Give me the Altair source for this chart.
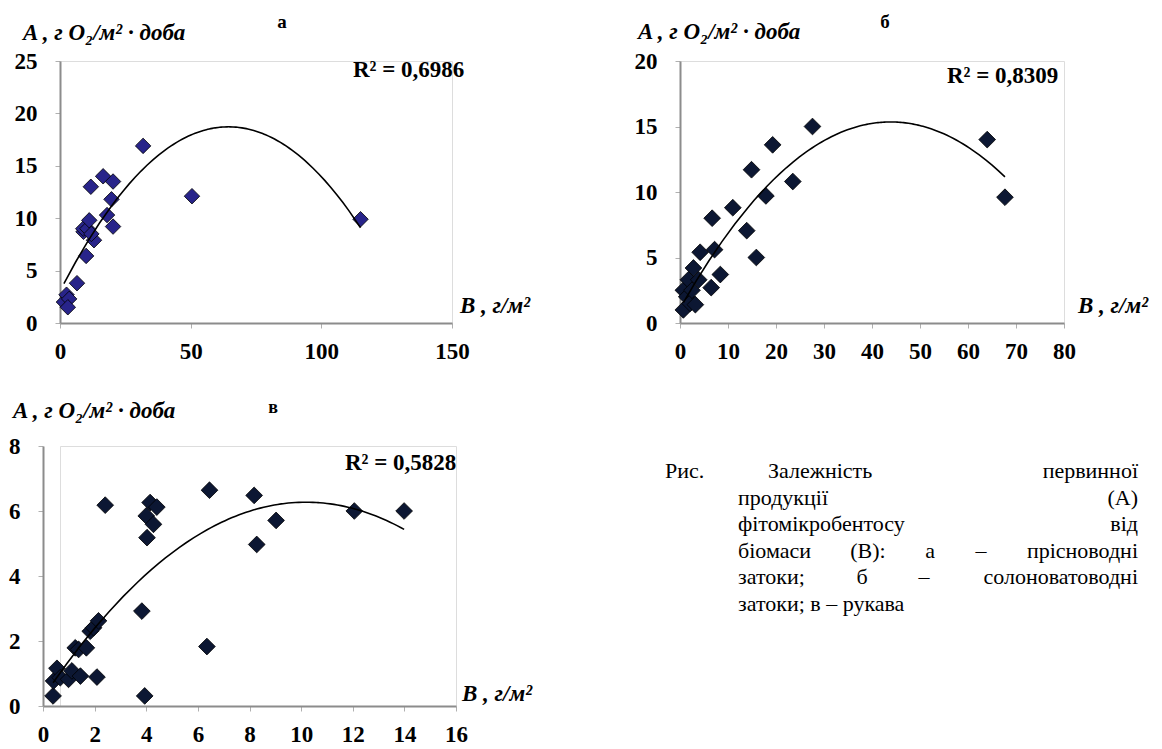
import altair as alt
import pandas as pd

FONT = "Liberation Serif"

# ---------- data ----------
# panel а – прісноводні затоки
a_B = [1.5, 2.5, 3.5, 3.0, 6.5, 10.0, 9.0, 8.9, 10.5, 11.2, 11.8, 13.0, 12.0, 16.5, 18.0, 19.7, 20.3, 20.3, 31.8, 50.5, 115.0]
a_A = [2.0, 2.7, 2.3, 1.5, 3.8, 6.4, 8.7, 9.0, 9.0, 9.8, 13.0, 7.9, 8.5, 14.0, 10.3, 11.8, 13.5, 9.2, 16.9, 12.1, 9.9]
# panel б – солоноватоводні затоки
b_B = [0.7, 0.7, 1.4, 1.75, 2.1, 2.5, 2.8, 3.2, 3.9, 4.2, 6.5, 6.7, 7.2, 8.4, 11.0, 13.9, 14.9, 15.9, 17.9, 19.3, 23.5, 27.6, 64.0, 67.7]
b_A = [1.0, 2.5, 2.0, 3.3, 1.5, 2.5, 4.2, 1.4, 3.3, 5.4, 2.7, 8.0, 5.6, 3.7, 8.8, 7.05, 11.7, 5.0, 9.7, 13.6, 10.8, 15.0, 14.0, 9.6]
# panel в – рукава
c_B = [0.39, 0.41, 0.54, 0.67, 0.99, 1.12, 1.25, 1.38, 1.45, 1.68, 1.83, 1.96, 2.09, 2.15, 2.41, 3.83, 3.94,
       4.0, 4.03, 4.15, 4.28, 4.41, 6.35, 6.45, 8.18, 8.28, 9.03, 12.06, 13.99]
c_A = [0.31, 0.77, 1.16, 0.87, 0.82, 1.08, 1.79, 1.74, 0.92, 1.79, 2.3, 2.41, 0.89, 2.62, 6.18, 2.92, 0.31,
       5.85, 5.18, 6.26, 5.59, 6.12, 1.83, 6.64, 6.48, 4.97, 5.71, 6.0, 6.0]

a_xticks = [0, 50, 100, 150]
a_yticks = [0, 5, 10, 15, 20, 25]
b_xticks = [0, 10, 20, 30, 40, 50, 60, 70, 80]
b_yticks = [0, 5, 10, 15, 20]
c_xticks = [0, 2, 4, 6, 8, 10, 12, 14, 16]
c_yticks = [0, 2, 4, 6, 8]

r2_a = "R² = 0,6986"
r2_b = "R² = 0,8309"
r2_c = "R² = 0,5828"
y_title = "A , г O₂/м²  ·  доба"
x_title = "B , г/м²"

# caption words: (text, x, y, align) relative to panel в
caption_words = [
    ("Рис.", 605, 25, "left"), ("Залежність", 708, 25, "left"), ("первинної", 1078, 25, "right"),
    ("продукції", 678, 52, "left"), ("(A)", 1078, 52, "right"),
    ("фітомікробентосу", 678, 78, "left"), ("від", 1078, 78, "right"),
    ("біомаси", 678, 105, "left"), ("(B):", 808, 105, "center"), ("а", 870, 105, "center"),
    ("–", 921, 105, "center"), ("прісноводні", 1078, 105, "right"),
    ("затоки;", 678, 131, "left"), ("б", 802, 131, "center"), ("–", 864, 131, "center"),
    ("солоноватоводні", 1078, 131, "right"),
    ("затоки; в – рукава", 678, 158, "left"),
]


def txt(s, x, y, size, weight="bold", style="normal", align="left", baseline="alphabetic"):
    return alt.Chart(pd.DataFrame({"t": [s]})).mark_text(
        font=FONT, fontSize=size, fontWeight=weight, fontStyle=style, color="black",
        align=align, baseline=baseline
    ).encode(text="t:N", x=alt.value(x), y=alt.value(y))


def panel(B, A, xdom, xvals, ydom, yvals, fill, size, fs, xrange=None, yoff=0, xpad=12, ypad=18):
    df = pd.DataFrame({"B": B, "A": A})
    xs = alt.Scale(domain=xdom, nice=False, zero=False)
    if xrange is not None:
        xs = alt.Scale(domain=xdom, nice=False, zero=False, range=xrange)
    ys = alt.Scale(domain=ydom, nice=False, zero=False)
    common = dict(grid=False, title=None, labelFont=FONT, labelFontSize=fs, labelFontWeight="bold",
                  labelColor="black", domainColor="#8c8c8c", domainWidth=2, tickColor="#b0b0b0",
                  tickSize=5, tickWidth=1)
    xa = alt.Axis(values=xvals, labelFlush=False, labelOverlap=False, labelPadding=xpad, **common)
    ya = alt.Axis(values=yvals, offset=yoff, labelOverlap=False, labelPadding=ypad, **common)
    pts = alt.Chart(df).mark_point(shape="diamond", filled=True, fill=fill, stroke="black",
                                   strokeWidth=0.8, size=size, opacity=1).encode(
        x=alt.X("B:Q", scale=xs, axis=xa), y=alt.Y("A:Q", scale=ys, axis=ya))
    fit = alt.Chart(df).transform_regression("B", "A", method="poly", order=2).mark_line(
        color="black", strokeWidth=1.6).encode(
        x=alt.X("B:Q", scale=xs, axis=xa), y=alt.Y("A:Q", scale=ys, axis=ya))
    return pts, fit


pa, fa = panel(a_B, a_A, [0, 150], a_xticks, [0, 25], a_yticks, "#28248a", 240, 23)
chart_a = alt.layer(
    pa, fa,
    txt(y_title, -37, -21, 23, style="italic"),
    txt("а", 222, -33, 19, align="center"),
    txt(r2_a, 293, 16, 23),
    txt(x_title, 400, 252, 23, style="italic"),
).properties(width=392, height=262)

pb, fb = panel(b_B, b_A, [0, 80], b_xticks, [0, 20], b_yticks, "#0c1733", 280, 23)
chart_b = alt.layer(
    pb, fb,
    txt(y_title, -42, -22, 23, style="italic"),
    txt("б", 205, -33, 19, align="center"),
    txt(r2_b, 267, 22, 23),
    txt(x_title, 398, 252, 23, style="italic"),
).properties(width=384, height=262)

pc, fc = panel(c_B, c_A, [0, 16], c_xticks, [0, 8], c_yticks, "#0c1733", 280, 23,
               xrange=[-17, 396], yoff=17)
cap_layers = [txt(s, x, y, 22, weight="normal", align=al, baseline="middle") for s, x, y, al in caption_words]
chart_c = alt.layer(
    pc, fc,
    txt(y_title, -47, -28, 23, style="italic"),
    txt("в", 213, -33, 18, align="center"),
    txt(r2_c, 285, 24, 23),
    txt(x_title, 402, 255, 23, style="italic"),
    *cap_layers,
).properties(width=396, height=260)

chart = alt.concat(
    chart_a, chart_b, chart_c, columns=2, bounds="flush",
    spacing={"row": 123, "column": 224},
).properties(
    padding={"left": 0, "top": 4, "right": 0, "bottom": 0}
).configure_view(stroke=None).configure(background="white")

chart.save("out.html", embed_options={"renderer": "svg", "actions": False})
